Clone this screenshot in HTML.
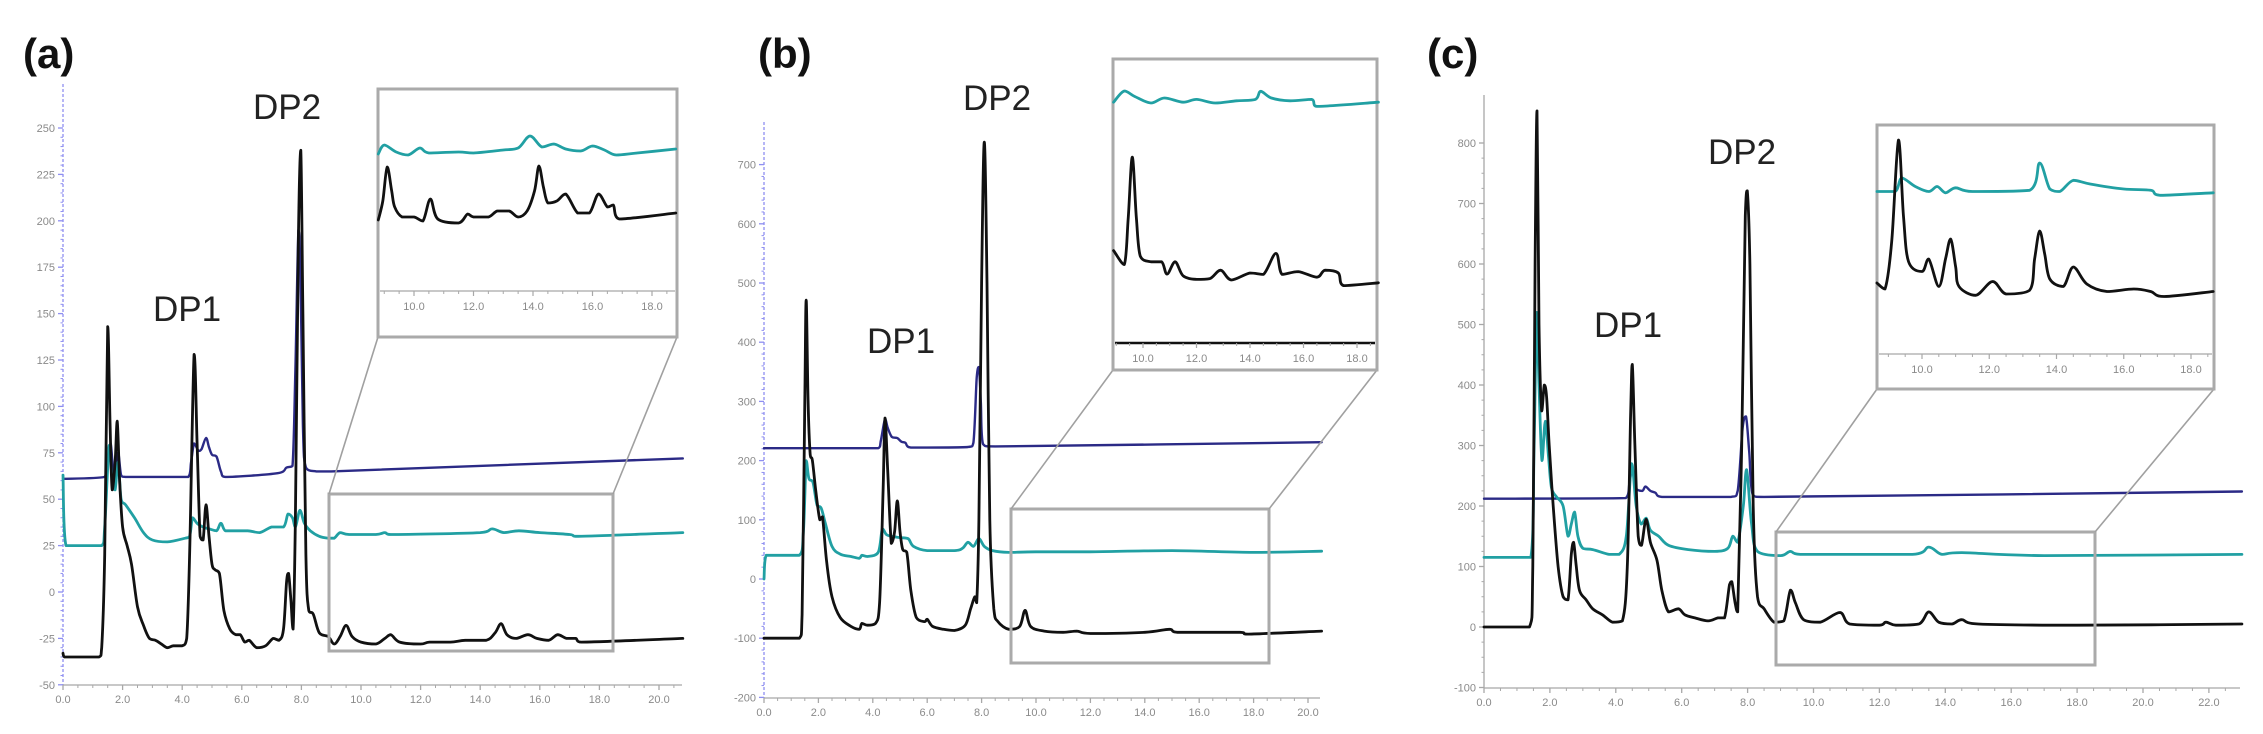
<!DOCTYPE html>
<html><head><meta charset="utf-8">
<style>
html,body{margin:0;padding:0;background:#fff;}
svg{display:block;font-family:"Liberation Sans",sans-serif;}
.tick{font-size:11px;fill:#8a8a8a;}
.plabel{font-size:42px;font-weight:bold;fill:#111;}
.dp{font-size:35px;fill:#222;}
</style></head>
<body>
<svg id="fig" width="2263" height="734" viewBox="0 0 2263 734" xmlns="http://www.w3.org/2000/svg"></svg>
<script>
// ---------- Panel (a) data ----------
const aYTicks = [-50,-25,0,25,50,75,100,125,150,175,200,225,250];
const aXTicks = [0,2,4,6,8,10,12,14,16,18,20];
const aInsetXTicks = [10,12,14,16,18];
const aBlack = [[0,-33],[0.05,-35],[1.2,-35],[1.3,-30],[1.4,20],[1.5,143],[1.58,90],[1.65,55],[1.75,70],[1.82,92],[1.9,60],[2.0,35],[2.15,25],[2.3,15],[2.5,-8],[2.7,-18],[2.9,-25],[3.1,-26],[3.3,-28],[3.5,-30],[3.7,-29],[4.0,-29],[4.15,-25],[4.25,20],[4.4,128],[4.5,80],[4.6,30],[4.7,28],[4.8,47],[4.9,30],[5.0,15],[5.1,12],[5.25,10],[5.4,-10],[5.6,-20],[5.8,-23],[5.95,-23],[6.1,-27],[6.25,-26],[6.5,-30],[6.8,-29],[7.05,-25],[7.25,-26],[7.4,-20],[7.5,5],[7.57,10],[7.65,-5],[7.72,-20],[7.8,40],[7.9,190],[7.98,238],[8.05,150],[8.15,20],[8.25,-10],[8.4,-12],[8.6,-22],[8.9,-24],[9.1,-28],[9.3,-24],[9.5,-18],[9.7,-24],[10,-27],[10.5,-28],[10.8,-25],[11.0,-23],[11.3,-27],[12,-28],[12.3,-27],[13,-27],[13.5,-26],[14.2,-26],[14.5,-22],[14.7,-17],[14.9,-23],[15.2,-25],[15.6,-23],[15.9,-25],[16.3,-26],[16.6,-23],[16.9,-25],[17.2,-25],[17.4,-27],[20.8,-25]];
const aTeal = [[0,63],[0.1,25],[1.3,25],[1.4,35],[1.55,79],[1.65,60],[1.75,55],[1.85,70],[1.95,50],[2.1,47],[2.4,40],[2.7,32],[3,28],[3.5,27],[4.1,29],[4.25,30],[4.35,40],[4.5,37],[4.7,35],[4.9,34],[5.15,33],[5.3,37],[5.45,33],[5.8,33],[6.2,33],[6.6,32],[7,35],[7.4,35],[7.55,42],[7.7,40],[7.8,35],[7.95,44],[8.1,37],[8.3,33],[8.6,30],[8.9,29],[9.1,29],[9.3,32],[9.6,31],[10.5,31],[10.8,32],[11,31],[14,32],[14.4,34],[14.8,32],[15.3,33],[16,32],[17,31],[17.3,30],[20.8,32]];
const aBlue = [[0,61],[1.4,62],[1.5,72],[1.6,80],[1.7,60],[1.75,56],[1.85,75],[1.95,63],[2.1,62],[4.2,62],[4.3,70],[4.4,80],[4.55,76],[4.65,77],[4.8,83],[4.9,78],[5.0,74],[5.15,73],[5.3,65],[5.45,62],[7.2,64],[7.5,67],[7.7,68],[7.8,120],[7.9,195],[7.97,170],[8.05,90],[8.15,67],[8.5,65],[9,65],[20.8,72]];
const aInsetTeal = [[8.8,68.5],[9.0,73],[9.4,69.5],[9.8,68],[10.2,71.5],[10.5,69],[11.5,69.5],[12,69],[13,70.5],[13.5,71.5],[13.9,77.5],[14.3,72],[14.7,73.5],[15.1,71],[15.6,70],[16,72.5],[16.4,70.5],[16.8,68],[17.5,69],[18.8,71]];
const aInsetBlack = [[8.8,35.5],[8.95,45],[9.1,62],[9.25,50],[9.35,42],[9.6,37],[10,37],[10.3,35],[10.55,46],[10.8,36],[11.5,34],[11.8,38.5],[12,37],[12.5,37],[12.8,40],[13.2,40],[13.5,37],[13.8,40],[14.05,50],[14.2,62.5],[14.35,52],[14.5,44],[14.8,45],[15.1,48.5],[15.5,39],[15.9,39],[16.2,48.5],[16.5,42],[16.7,43],[16.9,36],[18.8,39]];

// ---------- Panel (b) data ----------
const bYTicks = [-200,-100,0,100,200,300,400,500,600,700];
const bXTicks = [0,2,4,6,8,10,12,14,16,18,20];
const bInsetXTicks = [10,12,14,16,18];
const bBlack = [[0,-100],[1.3,-100],[1.4,-60],[1.5,300],[1.55,471],[1.62,300],[1.7,210],[1.78,200],[1.9,150],[2.05,100],[2.15,105],[2.3,30],[2.5,-30],[2.8,-65],[3.2,-80],[3.5,-85],[3.6,-75],[3.8,-78],[4.1,-75],[4.25,-40],[4.38,150],[4.45,272],[4.55,180],[4.68,60],[4.8,80],[4.9,132],[5.0,80],[5.1,50],[5.25,45],[5.4,-20],[5.6,-65],[5.9,-72],[6.0,-68],[6.2,-80],[6.6,-85],[7.0,-87],[7.4,-78],[7.6,-50],[7.75,-30],[7.82,-40],[7.9,100],[8.0,500],[8.1,738],[8.2,500],[8.3,100],[8.45,-50],[8.6,-72],[9.0,-85],[9.4,-80],[9.6,-53],[9.8,-80],[10.3,-88],[11,-90],[11.5,-88],[12,-92],[14,-90],[14.9,-85],[15.2,-90],[17.5,-90],[17.8,-93],[20.5,-88]];
const bTeal = [[0,0],[0.08,40],[1.3,40],[1.45,80],[1.55,200],[1.65,170],[1.8,163],[1.95,125],[2.1,120],[2.25,95],[2.5,55],[2.8,42],[3.2,38],[3.5,35],[3.6,40],[3.8,38],[4.2,45],[4.35,85],[4.5,75],[4.7,72],[5.0,70],[5.3,68],[5.5,55],[6,48],[7,48],[7.3,52],[7.5,62],[7.7,55],[7.9,68],[8.1,55],[8.4,48],[9,45],[10,46],[12,46],[15,48],[18,45],[20.5,47]];
const bBlue = [[0,221],[4.2,221],[4.3,235],[4.45,270],[4.55,255],[4.7,240],[4.9,238],[5.05,232],[5.2,230],[5.4,222],[7.5,223],[7.7,230],[7.82,340],[7.9,358],[7.97,300],[8.05,228],[8.5,224],[20.5,231]];
const bInsetTeal = [[8.9,86],[9.3,90],[9.7,88],[10.3,85.7],[10.8,87.5],[11.5,86],[12,87],[12.7,85.7],[13.5,86.5],[14.2,87],[14.4,89.9],[14.8,87.5],[15.5,86.5],[16.3,87],[16.5,84.5],[18.8,86]];
const bInsetBlack = [[8.9,33],[9.3,28],[9.45,45],[9.6,66.4],[9.75,45],[9.9,31],[10.3,29],[10.7,29],[10.9,24.6],[11.2,29],[11.5,24],[12,22.7],[12.5,23],[12.9,26],[13.3,22.5],[14,25],[14.5,24.5],[14.97,32],[15.2,24.5],[15.8,25.5],[16.5,23.5],[16.8,26],[17.3,25],[17.5,20.5],[18.8,21.5]];

// ---------- Panel (c) data ----------
const cYTicks = [-100,0,100,200,300,400,500,600,700,800];
const cXTicks = [0,2,4,6,8,10,12,14,16,18,20,22];
const cInsetXTicks = [10,12,14,16,18];
const cBlack = [[0,0],[1.38,0],[1.48,100],[1.55,600],[1.61,853],[1.67,500],[1.75,357],[1.83,400],[1.9,380],[1.98,300],[2.1,200],[2.25,100],[2.4,50],[2.55,45],[2.65,120],[2.72,140],[2.8,100],[2.9,60],[3.1,45],[3.3,30],[3.6,20],[3.9,8],[4.2,10],[4.35,100],[4.45,350],[4.5,434],[4.58,300],[4.68,150],[4.78,135],[4.92,178],[5.05,140],[5.25,110],[5.4,60],[5.6,25],[5.9,30],[6.1,20],[6.4,15],[6.8,10],[7.1,15],[7.3,15],[7.45,70],[7.52,75],[7.62,40],[7.7,25],[7.82,300],[7.93,680],[7.99,721],[8.07,600],[8.17,200],[8.3,50],[8.5,30],[8.8,8],[9.1,10],[9.3,61],[9.45,40],[9.7,12],[10.2,8],[10.8,24],[11.1,5],[12,3],[12.2,8],[12.5,3],[13.2,5],[13.5,25],[13.8,8],[14.2,5],[14.5,12],[15,5],[18,3],[23,5]];
const cTeal = [[0,115],[1.42,115],[1.52,300],[1.6,520],[1.67,400],[1.76,275],[1.86,340],[1.96,280],[2.05,230],[2.2,215],[2.4,200],[2.55,150],[2.65,170],[2.75,190],[2.85,150],[3.0,130],[3.3,128],[3.8,120],[4.1,120],[4.32,150],[4.48,270],[4.62,200],[4.77,170],[4.92,180],[5.05,160],[5.3,150],[5.6,135],[6.2,128],[7,125],[7.4,130],[7.55,150],[7.7,140],[7.87,200],[7.97,260],[8.12,170],[8.3,125],[9,118],[9.3,125],[9.6,120],[13,120],[13.5,132],[13.9,120],[14.5,123],[17,118],[23,120]];
const cBlue = [[0,212],[4.3,213],[4.42,240],[4.5,263],[4.6,230],[4.8,225],[4.9,232],[5.05,225],[5.2,222],[5.4,215],[7.5,215],[7.7,225],[7.85,330],[7.95,348],[8.05,290],[8.15,220],[8.5,215],[23,224]];
const cInsetTeal = [[8.66,65],[9.2,65],[9.4,70.4],[9.8,67],[10.2,65],[10.45,67],[10.7,64.5],[11,66.5],[11.5,65],[13.2,65.5],[13.5,76.4],[13.8,66],[14.1,65],[14.5,69.5],[15,68],[16,66],[16.8,65.5],[17.1,63.5],[18.66,64.5]];
const cInsetBlack = [[8.66,28.4],[8.9,26],[9.1,45],[9.3,85.6],[9.45,55],[9.6,37],[10.0,33],[10.2,38],[10.5,27],[10.7,38],[10.85,46],[11.0,35],[11.1,27],[11.6,23.5],[12.1,29],[12.5,24],[13.2,25.5],[13.35,38],[13.5,49.2],[13.65,40],[13.8,30],[14.2,27],[14.5,34.8],[14.9,28],[15.5,25],[16.3,26],[16.8,25],[17.2,23],[18.66,25]];

// ---------- drawing ----------
const NS = 'http://www.w3.org/2000/svg';
const svg = document.getElementById('fig');
function mk(tag, attrs, parent){
  const e = document.createElementNS(NS, tag);
  for (const k in attrs) e.setAttribute(k, attrs[k]);
  (parent||svg).appendChild(e);
  return e;
}
function lin(d0,d1,r0,r1){ return v => r0 + (v-d0)/(d1-d0)*(r1-r0); }
function clamp(v,a,b){ const lo=Math.min(a,b), hi=Math.max(a,b); return Math.max(lo,Math.min(hi,v)); }
function pathFrom(data, sx, sy){
  const P = data.map(p=>[sx(p[0]), sy(p[1])]);
  let d = 'M'+P[0][0].toFixed(1)+' '+P[0][1].toFixed(1);
  for (let i=0;i<P.length-1;i++){
    const p0=P[Math.max(0,i-1)], p1=P[i], p2=P[i+1], p3=P[Math.min(P.length-1,i+2)];
    const c1x = p1[0]+(p2[0]-p0[0])/6, c1y = clamp(p1[1]+(p2[1]-p0[1])/6, p1[1], p2[1]);
    const c2x = p2[0]-(p3[0]-p1[0])/6, c2y = clamp(p2[1]-(p3[1]-p1[1])/6, p1[1], p2[1]);
    d += ' C'+clamp(c1x,p1[0],p2[0]).toFixed(1)+' '+c1y.toFixed(1)+' '+clamp(c2x,p1[0],p2[0]).toFixed(1)+' '+c2y.toFixed(1)+' '+p2[0].toFixed(1)+' '+p2[1].toFixed(1);
  }
  return d;
}
const COLORS = {black:'#111111', teal:'#21a0a3', blue:'#2b2a86'};

function drawSeries(g, data, sx, sy, color, w, name){
  const p = mk('path', {d:pathFrom(data,sx,sy), fill:'none', stroke:color, 'stroke-width':w, 'stroke-linejoin':'round', 'stroke-linecap':'round'}, g);
  
  
}

function drawPanel(c){
  const g = mk('g', {});
  
  
  const sx = lin(0, 1, c.ax, c.ax + c.pxMin);
  const sy = lin(0, 1, c.zeroY, c.zeroY - c.pxUnit);
  const ya = mk('line', {x1:c.ax, y1:c.axTop, x2:c.ax, y2:c.axBot, stroke:c.yAxisColor, 'stroke-width':1.3, 'stroke-dasharray':c.yDash||'none'}, g);
  
  
  const xa = mk('line', {x1:c.ax, y1:c.axBot, x2:c.axRight, y2:c.axBot, stroke:'#a8a8a8', 'stroke-width':1.3}, g);
  
  
  c.yTicks.forEach((v,i)=>{
    const y = sy(v);
    mk('line', {x1:c.ax-5, y1:y, x2:c.ax, y2:y, stroke:c.yAxisColor, 'stroke-width':1.3}, g);
    if (i < c.yTicks.length-1){
      const step = (c.yTicks[i+1]-v)/c.yMinor;
      for (let k=1;k<c.yMinor;k++){ const yy = sy(v+k*step); mk('line',{x1:c.ax-2.5,y1:yy,x2:c.ax,y2:yy,stroke:c.yAxisColor,'stroke-width':1},g); }
    }
    const t = mk('text', {x:c.ax-8, y:y+4, 'text-anchor':'end', class:'tick'}, g);
    t.textContent = String(v);
    
    
  });
  c.xTicks.forEach(v=>{
    const x = sx(v);
    mk('line', {x1:x, y1:c.axBot, x2:x, y2:c.axBot+5, stroke:'#a8a8a8', 'stroke-width':1.3}, g);
    const t = mk('text', {x:x, y:c.axBot+18, 'text-anchor':'middle', class:'tick'}, g);
    t.textContent = v.toFixed(1);
    
    
  });
  for (let m=0.5; sx(m) <= c.axRight; m+=0.5){
    if (Math.abs(m/2-Math.round(m/2))<1e-6) continue;
    const x = sx(m);
    mk('line', {x1:x, y1:c.axBot, x2:x, y2:c.axBot+3, stroke:'#a8a8a8', 'stroke-width':1}, g);
  }
  drawSeries(g, c.blue, sx, sy, COLORS.blue, 2.4, c.id+'-blue-trace');
  drawSeries(g, c.teal, sx, sy, COLORS.teal, 2.8, c.id+'-teal-trace');
  drawSeries(g, c.black, sx, sy, COLORS.black, 2.8, c.id+'-black-trace');
  const r = c.rect;
  const zr = mk('rect', {x:r[0], y:r[1], width:r[2]-r[0], height:r[3]-r[1], fill:'none', stroke:'#aaaaaa', 'stroke-width':3}, g);
  
  
  const ib = c.inset;
  const l1 = mk('line', {x1:r[0], y1:r[1], x2:ib[0], y2:ib[3], stroke:'#a0a0a0', 'stroke-width':1.6}, g);
  
  
  const l2 = mk('line', {x1:r[2], y1:r[1], x2:ib[2], y2:ib[3], stroke:'#a0a0a0', 'stroke-width':1.6}, g);
  
  
  const ig = mk('g', {}, g);
  
  
  mk('rect', {x:ib[0], y:ib[1], width:ib[2]-ib[0], height:ib[3]-ib[1], fill:'#fff', stroke:'#aaaaaa', 'stroke-width':3}, ig);
  const isx = lin(10, 18, c.inX10, c.inX18);
  const isy = lin(0, 1, c.inAxisY, c.inAxisY - c.inPx);
  mk('line', {x1:ib[0]+2, y1:c.inAxisY, x2:ib[2]-2, y2:c.inAxisY, stroke:c.inAxisColor, 'stroke-width':c.inAxisW}, ig);
  c.inXTicks.forEach(v=>{
    const x = isx(v);
    mk('line', {x1:x, y1:c.inAxisY, x2:x, y2:c.inAxisY+5, stroke:'#a8a8a8', 'stroke-width':1.2}, ig);
    const t = mk('text', {x:x, y:c.inAxisY+19, 'text-anchor':'middle', class:'tick'}, ig);
    t.textContent = v.toFixed(1);
    
    
  });
  for (let m=8.5; isx(m) < ib[2]; m+=0.5){
    if (Math.abs(m/2-Math.round(m/2))<1e-6 || isx(m) < ib[0]) continue;
    mk('line', {x1:isx(m), y1:c.inAxisY, x2:isx(m), y2:c.inAxisY+3, stroke:'#a8a8a8', 'stroke-width':1}, ig);
  }
  drawSeries(ig, c.inTeal, isx, isy, COLORS.teal, 2.8, c.id+'-inset-teal-trace');
  drawSeries(ig, c.inBlack, isx, isy, COLORS.black, 2.8, c.id+'-inset-black-trace');
  const pl = mk('text', {x:c.lab[0], y:c.lab[1], class:'plabel'}, g);
  pl.textContent = c.labText;
  
  
  const d1 = mk('text', {x:c.dp1[0], y:c.dp1[1], class:'dp'}, g);
  d1.textContent = 'DP1';
  
  
  const d2 = mk('text', {x:c.dp2[0], y:c.dp2[1], class:'dp'}, g);
  d2.textContent = 'DP2';
  
  
}

drawPanel({id:'a', ax:63, pxMin:29.8, zeroY:592, pxUnit:1.856, axTop:84, axBot:685, axRight:682,
  yAxisColor:'#8f8ff0', yDash:'3 2', yMinor:5, yTicks:aYTicks, xTicks:aXTicks,
  black:aBlack, teal:aTeal, blue:aBlue,
  rect:[329,494,613,651], inset:[378,89,677,337],
  inX10:414, inX18:652, inAxisY:291, inPx:2, inAxisColor:'#a8a8a8', inAxisW:1.3, inXTicks:aInsetXTicks,
  inTeal:aInsetTeal, inBlack:aInsetBlack,
  lab:[23,68], labText:'(a)', dp1:[153,321], dp2:[253,119]});

drawPanel({id:'b', ax:764, pxMin:27.2, zeroY:579, pxUnit:0.592, axTop:122, axBot:698, axRight:1320,
  yAxisColor:'#8f8ff0', yDash:'3 2', yMinor:5, yTicks:bYTicks, xTicks:bXTicks,
  black:bBlack, teal:bTeal, blue:bBlue,
  rect:[1011,509,1269,663], inset:[1113,59,1377,370],
  inX10:1143, inX18:1357, inAxisY:343, inPx:2.8, inAxisColor:'#111', inAxisW:2.5, inXTicks:bInsetXTicks,
  inTeal:bInsetTeal, inBlack:bInsetBlack,
  lab:[758,68], labText:'(b)', dp1:[867,353], dp2:[963,110]});

drawPanel({id:'c', ax:1484, pxMin:32.95, zeroY:627, pxUnit:0.605, axTop:95, axBot:688, axRight:2240,
  yAxisColor:'#a8a8a8', yDash:'none', yMinor:4, yTicks:cYTicks, xTicks:cXTicks,
  black:cBlack, teal:cTeal, blue:cBlue,
  rect:[1776,532,2095,665], inset:[1877,125,2214,389],
  inX10:1922, inX18:2191, inAxisY:354, inPx:2.5, inAxisColor:'#a8a8a8', inAxisW:1.3, inXTicks:cInsetXTicks,
  inTeal:cInsetTeal, inBlack:cInsetBlack,
  lab:[1427,68], labText:'(c)', dp1:[1594,337], dp2:[1708,164]});
</script>
</body></html>
